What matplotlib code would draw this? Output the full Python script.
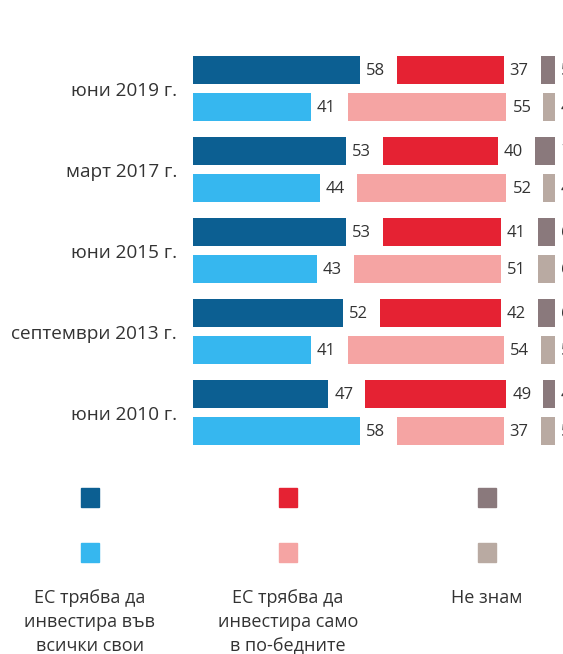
import matplotlib.pyplot as plt
from matplotlib.patches import Rectangle

plt.rcParams['font.family'] = ['Open Sans', 'DejaVu Sans']

# データ
periods = ["юни 2019 г.", "март 2017 г.", "юни 2015 г.", "септември 2013 г.", "юни 2010 г."]
all_regions_dark = [58, 53, 53, 52, 47]
poorer_dark = [37, 40, 41, 42, 49]
dont_know_dark = [5, 7, 6, 6, 4]
all_regions_light = [41, 44, 43, 41, 58]
poorer_light = [55, 52, 51, 54, 37]
dont_know_light = [4, 4, 6, 5, 5]

legend_labels = [["ЕС трябва да", "инвестира във", "всички свои"],
                 ["ЕС трябва да", "инвестира само", "в по-бедните"],
                 ["Не знам"]]

dark_colors = ["#0c5f92", "#e52233", "#8a797c"]
light_colors = ["#36b7ef", "#f5a4a3", "#b9aaa2"]
text_color = "#333333"

# ピクセル単位の座標系
W, H = 563, 654
fig = plt.figure(figsize=(W / 100, H / 100), dpi=100, facecolor="w")
ax = fig.add_axes([0, 0, 1, 1])
ax.set_xlim(0, W)
ax.set_ylim(H, 0)
ax.axis("off")

x0 = 193      # 棒の開始位置
scale = 2.88  # 1ポイントあたりのピクセル
gap = 37      # 系列間の間隔
bar_h = 28
pitch = 81
top = 56


def draw_row(y, values, colors):
    left = x0
    for v, c in zip(values, colors):
        w = v * scale
        ax.barh(y + bar_h / 2, w, height=bar_h, left=left, color=c, align="center")
        ax.text(left + w + 6, y + bar_h / 2 + 1, str(v), ha="left", va="center",
                fontsize=12, color=text_color)
        left += w + gap


for i, p in enumerate(periods):
    y_dark = top + i * pitch
    y_light = y_dark + 37
    draw_row(y_dark, [all_regions_dark[i], poorer_dark[i], dont_know_dark[i]], dark_colors)
    draw_row(y_light, [all_regions_light[i], poorer_light[i], dont_know_light[i]], light_colors)
    ax.text(177, y_dark + 35, p, ha="right", va="center", fontsize=13.7, color=text_color)

# 凡例
legend_x = [90, 288, 487]
for lx, dc, lc, lines in zip(legend_x, dark_colors, light_colors, legend_labels):
    ax.add_patch(Rectangle((lx - 9, 488), 18, 19, color=dc))
    ax.add_patch(Rectangle((lx - 9, 543), 18, 19, color=lc))
    for k, line in enumerate(lines):
        ax.text(lx, 598 + k * 24, line, ha="center", va="center", fontsize=13,
                color=text_color)

fig.savefig("out.png", dpi=100, facecolor="w")
